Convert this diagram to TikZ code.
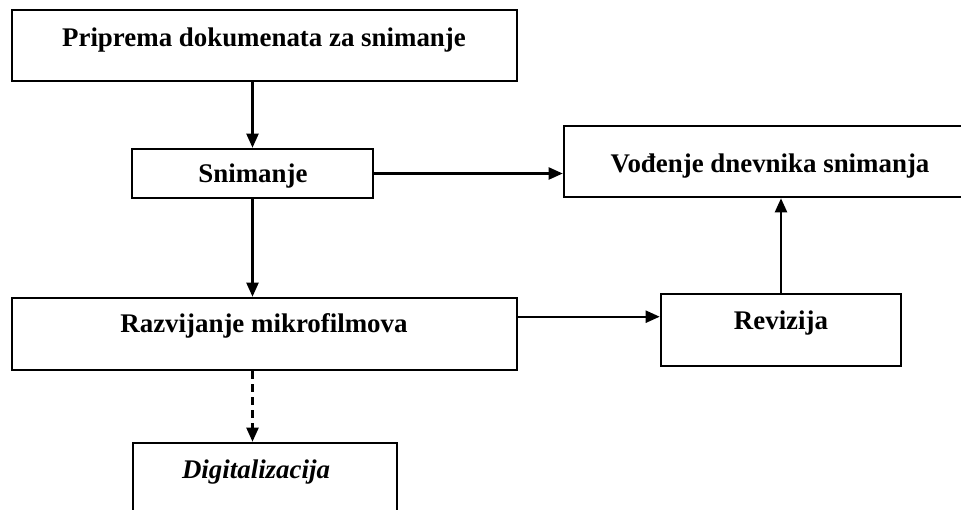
\documentclass[tikz,border=0pt]{standalone}
\usepackage{fontspec}
\setmainfont{Liberation Serif}
\usetikzlibrary{arrows.meta}
\begin{document}
\begin{tikzpicture}[x=1pt,y=-1pt,
  box/.style={draw,line width=2.6pt,minimum width=#1,inner sep=0pt},
  lbl/.style={anchor=base,inner sep=0pt,font=\fontsize{26.9}{32}\selectfont\bfseries},
  conn/.style={line width=2.2pt,-{Triangle[width=12pt,length=14pt]}}]
\useasboundingbox (0,0) rectangle (961,510);
\node[box=505pt,minimum height=71pt] (p1) at (264.5,45.5) {};
\node[box=241pt,minimum height=49pt] (sn) at (252.5,173.5) {};
\node[box=412pt,minimum height=71pt] (vd) at (770,161.5) {};
\node[box=505pt,minimum height=72pt] (rz) at (264.5,334) {};
\node[box=240pt,minimum height=72pt] (rv) at (781,330) {};
\node[box=264pt,minimum height=72pt] (dg) at (265,479) {};
\node[lbl] (t1) at (264,47) {Priprema dokumenata za snimanje};
\node[lbl] (t2) at (253,183) {Snimanje};
\node[lbl] (t3) at (770,173) {Vođenje dnevnika snimanja};
\node[lbl] (t4) at (264,333) {Razvijanje mikrofilmova};
\node[lbl] (t5) at (781,330) {Revizija};
\node[lbl,font=\fontsize{26.9}{32}\selectfont\bfseries\itshape] (t6) at (256,478) {Digitalizacija};
\draw[conn] (sn.north |- p1.south) -- (sn.north);
\draw[conn] (sn.east) -- (sn.east -| vd.west);
\draw[conn] (sn.south) -- (sn.south |- rz.north);
\draw[conn] ([yshift=-20pt]rz.north east) -- ([yshift=-20pt]rz.north east -| rv.west);
\draw[conn] (rv.north) -- (rv.north |- vd.south);
\draw[conn,dash pattern=on 8pt off 5pt] (sn.south |- rz.south) -- (sn.south |- dg.north);
\end{tikzpicture}
\end{document}
